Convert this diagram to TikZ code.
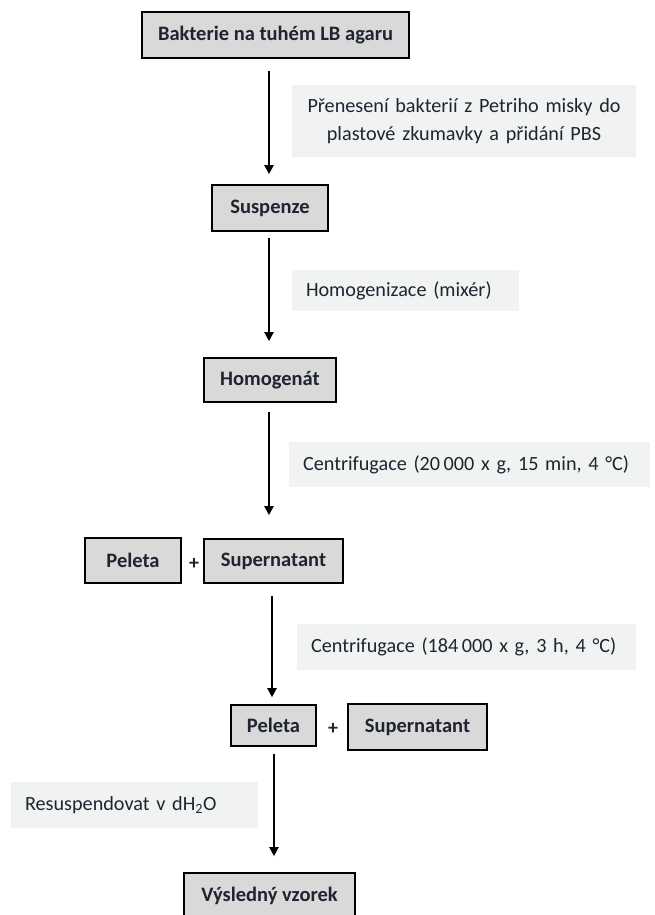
\documentclass[tikz,border=0pt]{standalone}
\usepackage{fontspec}
\setmainfont{Carlito}
\usetikzlibrary{arrows.meta}
\definecolor{boxgray}{HTML}{D9D9D9}
\definecolor{labgray}{HTML}{F1F2F2}
\definecolor{txt}{HTML}{1F2430}
\tikzset{
  stepbox/.style={draw=black, line width=1.6pt, fill=boxgray, inner sep=0pt,
    font=\fontsize{20.5}{24}\selectfont\bfseries, text=txt},
  lab/.style={fill=labgray, inner ysep=0pt, inner xsep=14pt, align=left,
    font=\fontsize{20.2}{28}\selectfont, text=txt},
  arr/.style={line width=2pt, -{Triangle[length=9pt,width=9pt]}},
  plus/.style={font=\fontsize{20}{24}\selectfont\bfseries, text=txt, inner sep=0pt}
}
\begin{document}
\begin{tikzpicture}[x=1pt,y=-1pt]
\clip (0,0) rectangle (655,915);
\useasboundingbox (0,0) rectangle (655,915);
% boxes
\node[stepbox, minimum width=267pt, minimum height=46pt] (b1) at (275.5,35) {Bakterie na tuhém LB agaru};
\node[stepbox, minimum width=116pt, minimum height=46pt] (b2) at (270,208) {Suspenze};
\node[stepbox, minimum width=132pt, minimum height=44pt] (b3) at (270,380) {Homogenát};
\node[stepbox, minimum width=96pt, minimum height=45pt] (p1) at (133,560.5) {Peleta};
\node[plus] (plus1) at (194,564) {+};
\node[stepbox, minimum width=139pt, minimum height=44pt] (s1) at (273.5,561) {Supernatant};
\node[stepbox, minimum width=85pt, minimum height=41pt] (p2) at (273.5,725.5) {Peleta};
\node[plus] (plus2) at (333,729) {+};
\node[stepbox, minimum width=139pt, minimum height=46pt] (s2) at (417.5,727) {Supernatant};
\node[stepbox, minimum width=171pt, minimum height=46pt] (b4) at (269.5,896) {Výsledný vzorek};
% labels
\node[lab, align=center, text width=316pt, minimum height=72pt] (l1) at (464,121) {Přenesení bakterií z Petriho misky do\\plastové zkumavky a přidání PBS};
\node[lab, text width=199pt, minimum height=41pt] (l2) at (405.5,290.5) {Homogenizace (mixér)};
\node[lab, text width=333pt, minimum height=45pt] (l3) at (469.5,464.5) {Centrifugace (20\,000 x g, 15 min, 4 °C)};
\node[lab, text width=311pt, minimum height=46pt] (l4) at (466.5,647) {Centrifugace (184\,000 x g, 3 h, 4 °C)};
\node[lab, text width=219pt, minimum height=46pt] (l5) at (134.5,805) {Resuspendovat v dH\textsubscript{2}O};
% arrows
\draw[arr] ([xshift=-6.5pt,yshift=-12pt]b1.south) -- ([xshift=-1pt,yshift=10pt]b2.north);
\draw[arr] ([xshift=-1pt,yshift=-6pt]b2.south) -- ([xshift=-1pt,yshift=16pt]b3.north);
\draw[arr] ([xshift=-1pt,yshift=-9pt]b3.south) -- ([xshift=-4.5pt,yshift=23pt]s1.north);
\draw[arr] ([xshift=-1.5pt,yshift=-12pt]s1.south) -- ([xshift=-1.5pt,yshift=7pt]p2.north);
\draw[arr] ([xshift=0.5pt,yshift=-7pt]p2.south) -- ([xshift=4.5pt,yshift=16pt]b4.north);
\end{tikzpicture}
\end{document}
